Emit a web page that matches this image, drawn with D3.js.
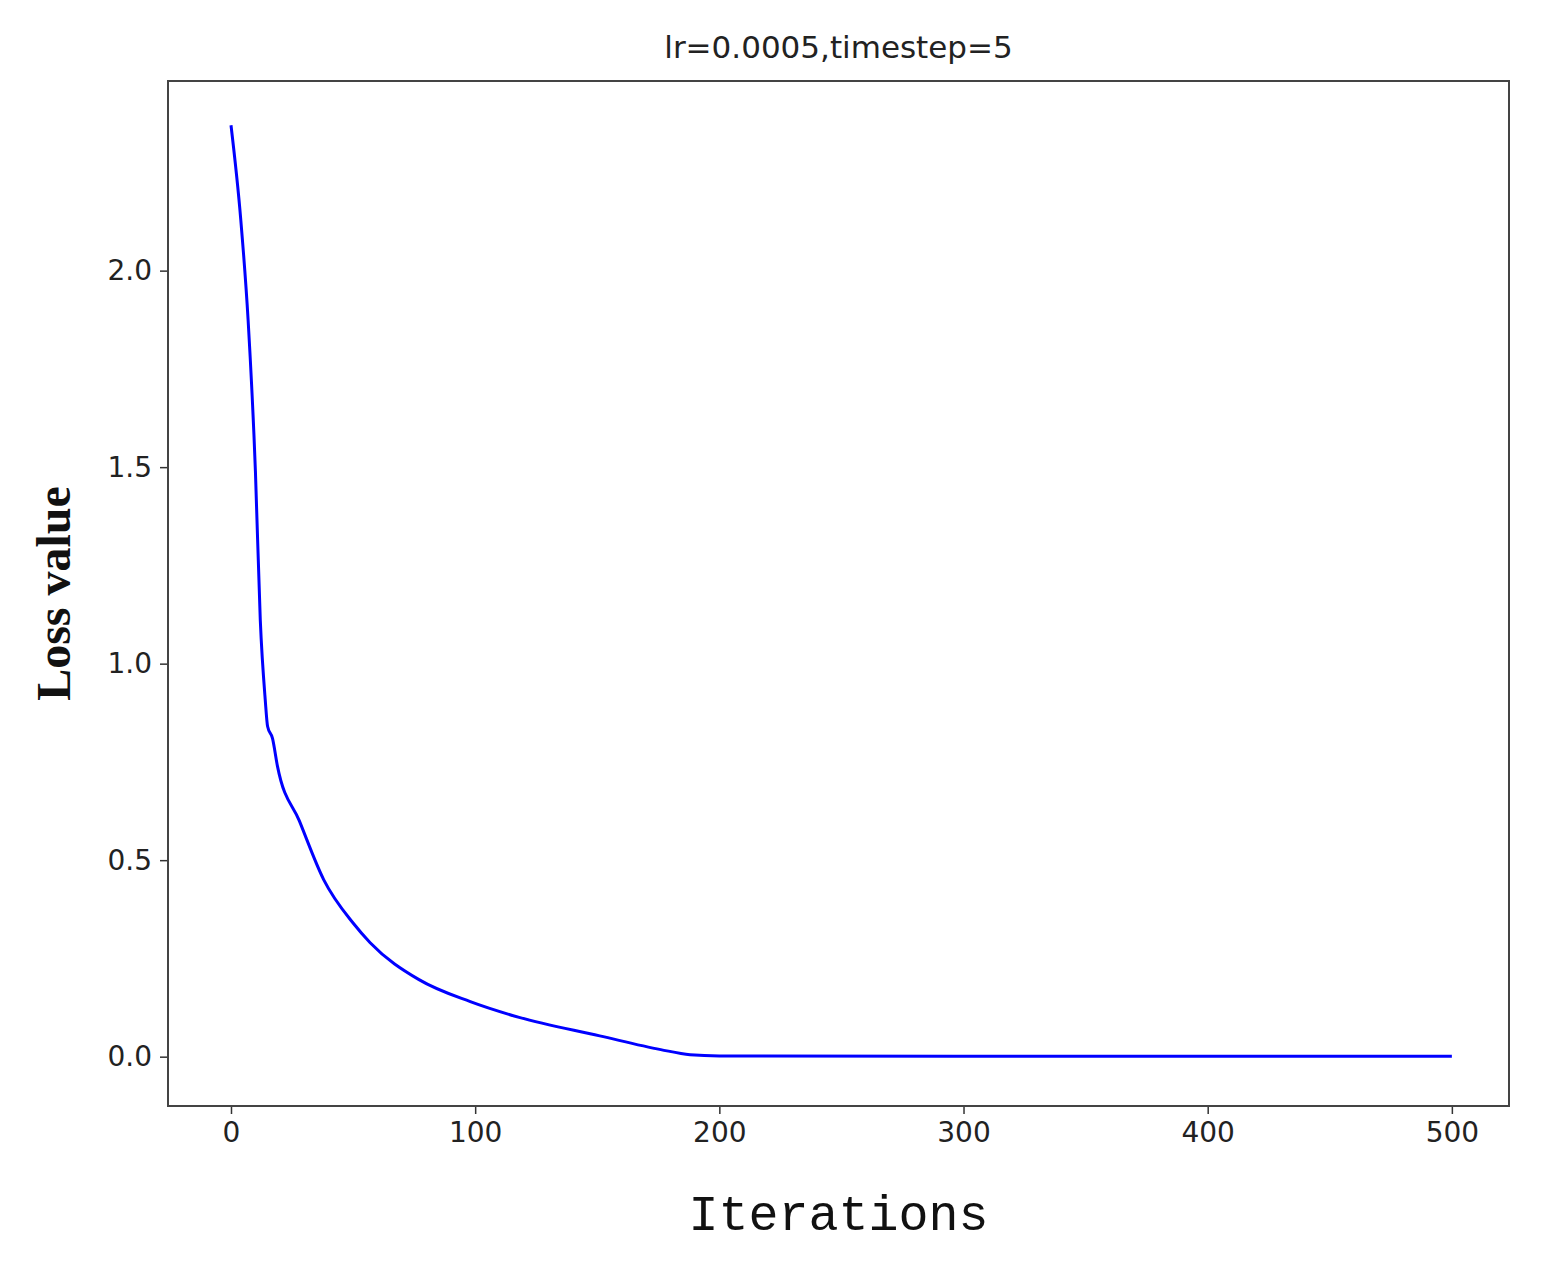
<!DOCTYPE html>
<html>
<head>
<meta charset="utf-8">
<script src="https://cdn.jsdelivr.net/npm/d3@7"></script>
<style>
  body { margin: 0; background: #fff; }
</style>
</head>
<body>
<div id="chart"></div>
<script>
var iterations = [0, 4, 7, 10, 12, 14, 15, 17, 19, 28, 38, 50, 57, 77, 98, 118, 151, 176, 188, 200, 300, 400, 500];
var lossValues = [2.37, 2.13, 1.875, 1.49, 1.11, 0.91, 0.84, 0.81, 0.74, 0.60, 0.45, 0.34, 0.29, 0.196, 0.14, 0.10, 0.053, 0.018, 0.005, 0.002, 0.001, 0.001, 0.001];
var xTicks = [0, 100, 200, 300, 400, 500];
var yTicks = [0.0, 0.5, 1.0, 1.5, 2.0];

function init() {
    var w = 1542, h = 1266;
    var mLeft = 168, mRight = 1509, mTop = 81, mBottom = 1106;

    var svg = d3.select("#chart").append("svg")
        .attr("width", w).attr("height", h);

    var x = d3.scaleLinear().domain([-25.8, 523.4]).range([mLeft, mRight]);
    var y = d3.scaleLinear().domain([-0.1255, 2.4825]).range([mBottom, mTop]);

    var xAxis = svg.append("g")
        .attr("transform", "translate(0," + mBottom + ")")
        .call(d3.axisBottom(x).tickValues(xTicks).tickSize(8).tickPadding(8).tickFormat(d3.format("d")));
    var yAxis = svg.append("g")
        .attr("transform", "translate(" + mLeft + ",0)")
        .call(d3.axisLeft(y).tickValues(yTicks).tickSize(8).tickPadding(8).tickFormat(d3.format(".1f")));

    [xAxis, yAxis].forEach(function(a) {
        a.select(".domain").remove();
        a.selectAll("line").attr("stroke", "#333").attr("stroke-width", 1.5);
        a.selectAll("text").attr("font-family", "DejaVu Sans").attr("font-size", 28).attr("fill", "#222");
    });

    svg.append("rect")
        .attr("x", mLeft).attr("y", mTop)
        .attr("width", mRight - mLeft).attr("height", mBottom - mTop)
        .attr("fill", "none").attr("stroke", "#444").attr("stroke-width", 2);

    var line = d3.line()
        .x(function(d, i) { return x(iterations[i]); })
        .y(function(d) { return y(d); })
        .curve(d3.curveMonotoneX);

    svg.append("path")
        .datum(lossValues)
        .attr("d", line)
        .attr("fill", "none")
        .attr("stroke", "#0000ff")
        .attr("stroke-width", 3);

    svg.append("text")
        .attr("x", (mLeft + mRight) / 2).attr("y", 58)
        .attr("text-anchor", "middle")
        .attr("font-family", "DejaVu Sans").attr("font-size", 31).attr("fill", "#222")
        .text("lr=0.0005,timestep=5");

    svg.append("text")
        .attr("x", (mLeft + mRight) / 2).attr("y", 1230)
        .attr("text-anchor", "middle")
        .attr("font-family", "Liberation Mono").attr("font-size", 50).attr("fill", "#111")
        .text("Iterations");

    svg.append("text")
        .attr("transform", "translate(70," + ((mTop + mBottom) / 2) + ") rotate(-90)")
        .attr("text-anchor", "middle")
        .attr("font-family", "Liberation Serif").attr("font-weight", "bold").attr("font-size", 48).attr("fill", "#111")
        .text("Loss value");
}

window.onload = init;
</script>
</body>
</html>
